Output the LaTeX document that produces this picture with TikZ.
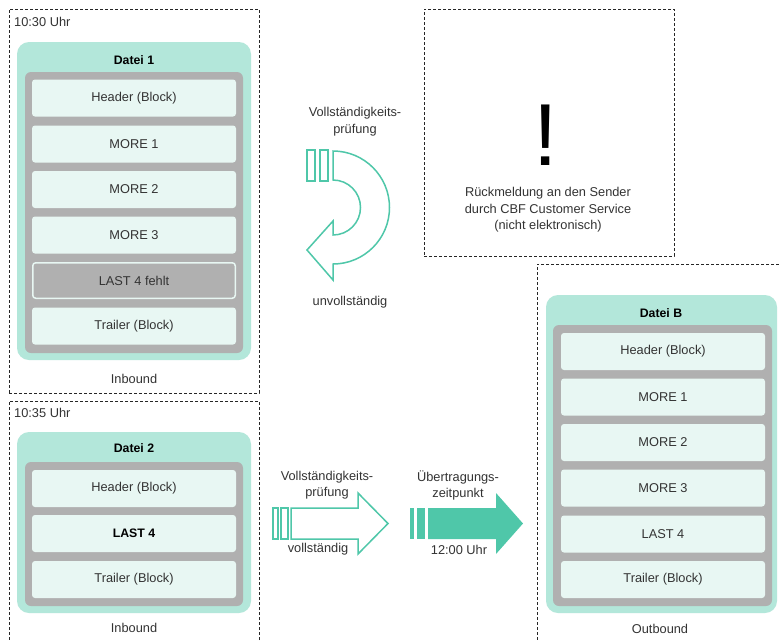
\documentclass[tikz,border=0pt]{standalone}
\usepackage{fontspec}
\setmainfont{Liberation Sans}
\definecolor{tealL}{HTML}{B3E7DA}
\definecolor{grayC}{HTML}{B0B0B0}
\definecolor{rowC}{HTML}{E8F7F3}
\definecolor{arrowC}{HTML}{4FC7A9}
\definecolor{txt}{HTML}{333333}
\tikzset{
  dbox/.style={draw=black!85, dash pattern=on 3pt off 2pt, line width=0.8pt, inner sep=0pt},
  tealbox/.style={fill=tealL, rounded corners=12pt, inner sep=0pt},
  graybox/.style={fill=grayC, rounded corners=6pt, inner sep=0pt},
  rowbox/.style={fill=rowC, rounded corners=3pt, minimum width=204pt, minimum height=37pt, inner sep=0pt, text=txt, font=\fontsize{12.8}{15}\selectfont},
  missbox/.style={rowbox, fill=grayC, draw=rowC, line width=1.5pt, minimum width=202.5pt, minimum height=35.5pt},
  lbl/.style={text=txt, font=\fontsize{12.8}{15}\selectfont, inner sep=0pt},
  title/.style={text=black, font=\fontsize{12.3}{14}\selectfont\bfseries, inner sep=0pt},
  outarrow/.style={draw=arrowC, line width=1.5pt, fill=white, line join=miter},
  fillarrow/.style={fill=arrowC, draw=none},
}
\begin{document}
\begin{tikzpicture}[x=1pt, y=-1pt]
\clip (0,0) rectangle (779,641);
\fill[white] (0,0) rectangle (779,641);

% ---------- Box 1 ----------
\node[dbox, minimum width=250pt, minimum height=384pt] (d1) at (134,201) {};
\node[lbl, anchor=west] (t1) at (14,22) {10:30 Uhr};
\node[tealbox, minimum width=234pt, minimum height=318pt] (f1) at (134,201) {};
\node[title] (n1) at (134,60) {Datei 1};
\node[graybox, minimum width=218pt, minimum height=281pt] (g1) at (134,212.5) {};
\node[rowbox] (a1) at (134,98) {Header (Block)};
\node[rowbox] (a2) at (134,144) {MORE 1};
\node[rowbox] (a3) at (134,189.5) {MORE 2};
\node[rowbox] (a4) at (134,235) {MORE 3};
\node[missbox] (a5) at (134,280.5) {LAST 4 fehlt};
\node[rowbox] (a6) at (134,326) {Trailer (Block)};
\node[lbl] (i1) at (134,379) {Inbound};

% ---------- Box 2 ----------
\node[dbox, minimum width=250pt, minimum height=259pt] (d2) at (134,530.5) {};
\node[lbl, anchor=west] (t2) at (14,413) {10:35 Uhr};
\node[tealbox, minimum width=234pt, minimum height=181pt] (f2) at (134,522.5) {};
\node[title] (n2) at (134,448) {Datei 2};
\node[graybox, minimum width=218pt, minimum height=144pt] (g2) at (134,534) {};
\node[rowbox] (b1) at (134,488.5) {Header (Block)};
\node[rowbox, font=\fontsize{12.3}{14}\selectfont\bfseries, text=black] (b2) at (134,533.5) {LAST 4};
\node[rowbox] (b3) at (134,579.5) {Trailer (Block)};
\node[lbl] (i2) at (134,628) {Inbound};

% ---------- Feedback box ----------
\node[dbox, minimum width=250pt, minimum height=247pt] (d3) at (549,132.5) {};
\node[text=black, font=\fontsize{88}{90}\selectfont, inner sep=0pt] (ex) at (546,135) {!};
\node[lbl, align=center, font=\fontsize{12.8}{16.5}\selectfont] (fb) at (548,210) {Rückmeldung an den Sender\\durch CBF Customer Service\\(nicht elektronisch)};

% ---------- Box B ----------
\node[dbox, minimum width=263pt, minimum height=396pt] (d4) at (668.5,462) {};
\node[tealbox, minimum width=231pt, minimum height=318pt] (fB) at (661.5,454) {};
\node[title] (nB) at (661,313) {Datei B};
\node[graybox, minimum width=219pt, minimum height=281pt] (gB) at (662.5,465.5) {};
\node[rowbox] (c1) at (663,351.5) {Header (Block)};
\node[rowbox] (c2) at (663,397) {MORE 1};
\node[rowbox] (c3) at (663,442.5) {MORE 2};
\node[rowbox] (c4) at (663,488) {MORE 3};
\node[rowbox] (c5) at (663,534) {LAST 4};
\node[rowbox] (c6) at (663,579.5) {Trailer (Block)};
\node[lbl] (oB) at (660,629) {Outbound};

% ---------- Curved arrow (incomplete) ----------
\node[lbl, align=center, font=\fontsize{12.8}{17}\selectfont] (vp1) at (355,121.5) {Vollständigkeits-\\prüfung};
\draw[outarrow] (307,150) rectangle (315,181);
\draw[outarrow] (320,150) rectangle (328,181);
\draw[outarrow] (333,151) .. controls (364.2,151) and (389.5,176.3) .. (389.5,207.5)
  .. controls (389.5,238.7) and (364.2,264) .. (333,264)
  -- (333,280) -- (307,250) -- (333,221) -- (333,235)
  .. controls (348.2,235) and (360.5,222.7) .. (360.5,207.5)
  .. controls (360.5,192.3) and (348.2,180) .. (333,180) -- cycle;
\node[lbl] (uv) at (350,302) {unvollständig};

% ---------- Straight arrow (complete) ----------
\node[lbl, align=center, font=\fontsize{12.8}{16}\selectfont] (vp2) at (327,485) {Vollständigkeits-\\prüfung};
\draw[outarrow] (273,508) rectangle (278,539);
\draw[outarrow] (281,508) rectangle (288,539);
\draw[outarrow] (291,508) -- (358,508) -- (358,493) -- (388,523.5) -- (358,554) -- (358,539) -- (291,539) -- cycle;
\node[lbl] (vs) at (318,549) {vollständig};

% ---------- Filled arrow (transfer) ----------
\node[lbl, align=center, font=\fontsize{12.8}{16}\selectfont] (ut) at (458,485) {Übertragungs-\\zeitpunkt};
\fill[fillarrow] (410,508) rectangle (414,539);
\fill[fillarrow] (417,508) rectangle (425,539);
\fill[fillarrow] (428,508) -- (496,508) -- (496,493) -- (523,523.5) -- (496,554) -- (496,539) -- (428,539) -- cycle;
\node[lbl] (zt) at (459,550) {12:00 Uhr};
\end{tikzpicture}
\end{document}
